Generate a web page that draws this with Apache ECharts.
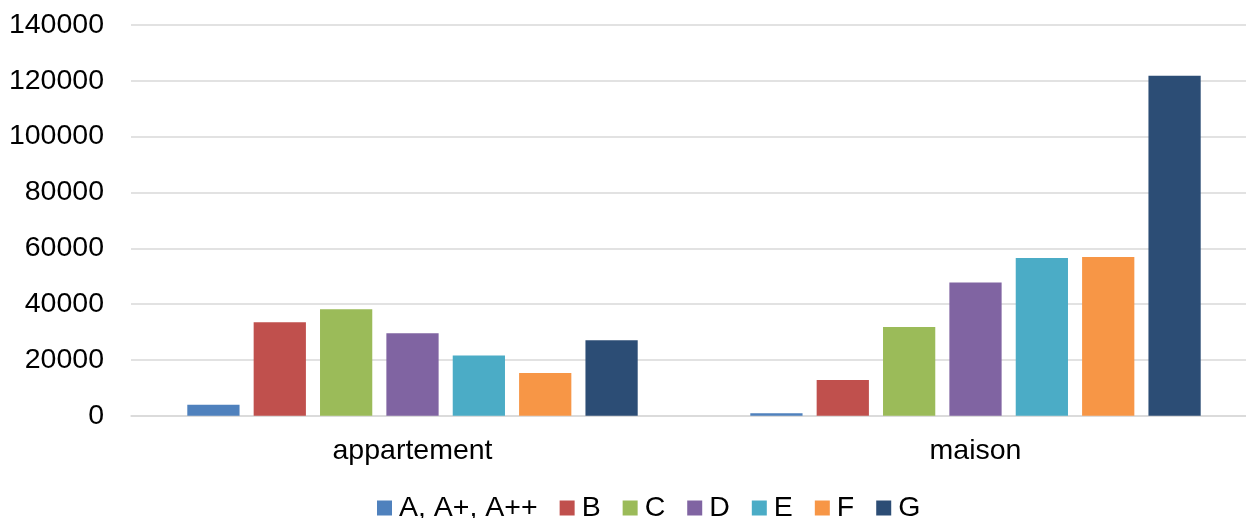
<!DOCTYPE html>
<html>
<head>
<meta charset="utf-8">
<script src="https://cdn.jsdelivr.net/npm/echarts@6/dist/echarts.min.js"></script>
<style>
html,body{margin:0;padding:0;background:#fff;overflow:hidden;width:1246px;height:518px;}
#chart{width:1257px;height:518px;}
</style>
</head>
<body>
<div id="chart"></div>
<script>
var categories = ['appartement', 'maison'];
var seriesNames = ['A, A+, A++', 'B', 'C', 'D', 'E', 'F', 'G'];
var valuesA = [3900, 850];
var valuesB = [33500, 12800];
var valuesC = [38100, 31800];
var valuesD = [29500, 47700];
var valuesE = [21600, 56500];
var valuesF = [15300, 56900];
var valuesG = [27000, 121800];
var colors = ['#4f81bd', '#c0504d', '#9bbb59', '#8064a2', '#4bacc6', '#f79646', '#2c4d75'];

var allValues = [valuesA, valuesB, valuesC, valuesD, valuesE, valuesF, valuesG];
var font = "Arial, 'Liberation Sans', sans-serif";

var chart = echarts.init(document.getElementById('chart'), null, {renderer: 'canvas'});
chart.setOption({
  animation: false,
  color: colors,
  grid: {left: 131, right: 0, top: 25, bottom: 102.3, containLabel: false},
  legend: {
    left: 377,
    top: 493,
    padding: 0,
    itemWidth: 15,
    itemHeight: 15,
    itemGap: 22,
    icon: 'rect',
    textStyle: {fontSize: 28.5, fontFamily: font, color: '#000', lineHeight: 30, padding: [0, 0, 0, 2]},
    data: seriesNames
  },
  xAxis: {
    type: 'category',
    data: categories,
    axisLine: {show: true, lineStyle: {color: '#d9d9d9', width: 1.5}},
    axisTick: {show: false},
    axisLabel: {fontSize: 28.5, fontFamily: font, color: '#000', margin: 21}
  },
  yAxis: {
    type: 'value',
    min: 0,
    max: 140000,
    interval: 20000,
    axisLine: {show: false},
    axisTick: {show: false},
    splitLine: {lineStyle: {color: '#d9d9d9', width: 1.5}},
    axisLabel: {fontSize: 28.5, fontFamily: font, color: '#000', margin: 27,
      formatter: function (v) { return String(v); }}
  },
  series: seriesNames.map(function (n, i) {
    return {
      name: n,
      type: 'bar',
      data: allValues[i],
      barGap: '27%',
      barCategoryGap: '20%'
    };
  })
});
</script>
</body>
</html>
